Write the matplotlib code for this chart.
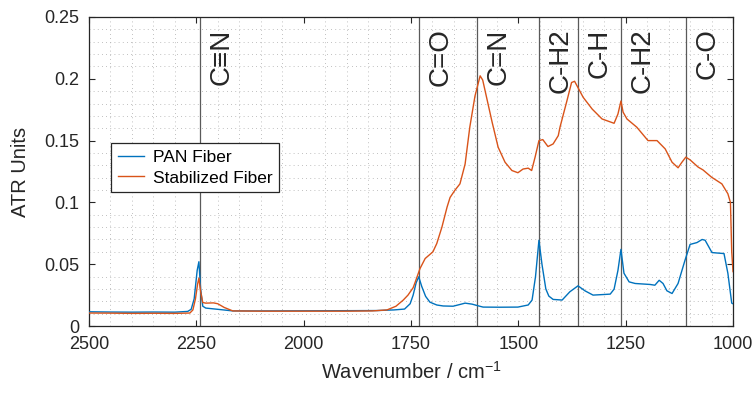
import matplotlib
matplotlib.use("Agg")
import matplotlib.pyplot as plt
from matplotlib.ticker import MultipleLocator, FuncFormatter

plt.rcParams['font.family'] = ['Liberation Sans', 'DejaVu Sans']
plt.rcParams['mathtext.default'] = 'regular'

# ATR spectra: PAN fiber
pan_wn = [2500, 2450, 2400, 2350, 2300, 2270, 2262, 2255, 2248, 2244, 2240, 2235,
          2228, 2200, 2165, 2100, 2000, 1900, 1830, 1790, 1765, 1752, 1745, 1738,
          1732, 1725, 1716, 1706, 1690, 1675, 1652, 1635, 1624, 1608, 1590, 1582,
          1543, 1501, 1477, 1468, 1460, 1452, 1445, 1436, 1429, 1419, 1398, 1380,
          1361, 1345, 1326, 1300, 1286, 1277, 1268, 1261, 1254, 1242, 1228, 1193,
          1182, 1172, 1163, 1154, 1142, 1128, 1112, 1100, 1084, 1072, 1065, 1049,
          1035, 1021, 1012, 1003, 1000]
pan_atr = [0.0115, 0.0113, 0.0112, 0.0113, 0.0112, 0.0118, 0.0135, 0.022, 0.045, 0.052,
           0.030, 0.016, 0.0145, 0.0135, 0.0122, 0.0122, 0.0123, 0.0124, 0.0125, 0.013,
           0.0137, 0.018, 0.025, 0.035, 0.0398, 0.032, 0.024, 0.0193, 0.017, 0.0162,
           0.016, 0.0175, 0.0185, 0.0177, 0.016, 0.0153, 0.0152, 0.0153, 0.017, 0.021,
           0.040, 0.0694, 0.050, 0.030, 0.0242, 0.0215, 0.021, 0.0277, 0.0325, 0.0285,
           0.025, 0.0255, 0.0258, 0.0298, 0.045, 0.062, 0.0427, 0.0357, 0.0344, 0.0336,
           0.033, 0.037, 0.0344, 0.0285, 0.0263, 0.0344, 0.053, 0.066, 0.0675, 0.070,
           0.0694, 0.0594, 0.059, 0.0586, 0.0427, 0.0185, 0.018]

# ATR spectra: stabilized fiber
stab_wn = [2500, 2450, 2400, 2350, 2300, 2265, 2258, 2252, 2247, 2244, 2240, 2235,
           2228, 2210, 2200, 2185, 2165, 2100, 2000, 1900, 1840, 1806, 1785, 1768,
           1757, 1745, 1740, 1729, 1717, 1699, 1690, 1678, 1666, 1659, 1648, 1636,
           1624, 1613, 1601, 1589, 1583, 1574, 1561, 1547, 1531, 1515, 1501, 1489,
           1477, 1469, 1461, 1452, 1443, 1431, 1419, 1407, 1403, 1387, 1376, 1369,
           1349, 1328, 1305, 1277, 1268, 1261, 1256, 1247, 1224, 1198, 1177, 1158,
           1142, 1128, 1119, 1110, 1100, 1081, 1070, 1050, 1026, 1012, 1006, 1003, 1000]
stab_atr = [0.0105, 0.0104, 0.0102, 0.0103, 0.0102, 0.0105, 0.013, 0.022, 0.034, 0.0387,
            0.028, 0.019, 0.0185, 0.0187, 0.018, 0.015, 0.0122, 0.012, 0.012, 0.012,
            0.0122, 0.013, 0.016, 0.021, 0.025, 0.031, 0.0357, 0.0465, 0.0546, 0.060,
            0.0667, 0.080, 0.0962, 0.104, 0.1097, 0.115, 0.131, 0.161, 0.186, 0.2024,
            0.199, 0.185, 0.1648, 0.1446, 0.1325, 0.1258, 0.124, 0.127, 0.1277, 0.1258,
            0.1366, 0.150, 0.1508, 0.1452, 0.1473, 0.154, 0.1608, 0.182, 0.197, 0.198,
            0.185, 0.1755, 0.1675, 0.164, 0.1715, 0.182, 0.173, 0.1675, 0.1608, 0.150,
            0.150, 0.1433, 0.1325, 0.128, 0.1325, 0.1366, 0.1344, 0.1285, 0.1263, 0.1204,
            0.115, 0.107, 0.100, 0.060, 0.044]

# Band assignments
band_wn = [2241, 1731, 1596, 1452, 1360, 1261, 1110]
band_labels = ['C\u2261N', 'C=O', 'C=N', 'C-H2', 'C-H', 'C-H2', 'C-O']

x_ticks = [2500, 2250, 2000, 1750, 1500, 1250, 1000]
y_ticks = [0, 0.05, 0.1, 0.15, 0.2, 0.25]

dark = '#262626'
fig = plt.figure(figsize=(7.56, 3.98), dpi=100)
ax = fig.add_axes([0.1177, 0.1809, 0.9696 - 0.1177, 0.9573 - 0.1809])

ax.plot(pan_wn, pan_atr, color='#0072BD', lw=1.0, label='PAN Fiber', zorder=3)
ax.plot(stab_wn, stab_atr, color='#D95319', lw=1.0, label='Stabilized Fiber', zorder=3)

for w, lab in zip(band_wn, band_labels):
    ax.axvline(w, color='#5a5a5a', lw=0.9, zorder=2)
    ax.text(w - 50, 0.2408, lab, rotation=90, ha='center', va='top',
            fontsize=20, color=dark, zorder=4)

ax.set_xlim(2500, 1000)
ax.set_ylim(0, 0.25)
ax.set_xticks(x_ticks)
ax.set_yticks(y_ticks)
ax.yaxis.set_major_formatter(FuncFormatter(lambda v, p: ('%g' % v)))
ax.xaxis.set_minor_locator(MultipleLocator(50))
ax.yaxis.set_minor_locator(MultipleLocator(0.01))
ax.grid(which='minor', color='#ababab', lw=0.6, linestyle=(0, (1, 4)))
ax.grid(which='major', visible=False)
ax.tick_params(which='major', direction='in', length=4.5, width=0.8, colors=dark,
               labelsize=13, top=True, right=True, pad=7)
ax.tick_params(which='minor', length=0, top=True, right=True)
for s in ax.spines.values():
    s.set_color(dark)
    s.set_linewidth(0.9)

ax.set_xlabel('Wavenumber / cm$^{-1}$', fontsize=14.5, color=dark, labelpad=6)
ax.set_ylabel('ATR Units', fontsize=14.5, color=dark, labelpad=10)

leg = ax.legend(loc='upper left', bbox_to_anchor=(0.034, 0.592), fontsize=12.5,
                frameon=True, fancybox=False, shadow=False, borderaxespad=0,
                handlelength=1.5, handletextpad=0.5, labelspacing=0.3, borderpad=0.4)
leg.get_frame().set_edgecolor(dark)
leg.get_frame().set_linewidth(0.9)
leg.get_frame().set_facecolor('white')
leg.get_frame().set_alpha(1)

fig.savefig('out.png', dpi=100)
